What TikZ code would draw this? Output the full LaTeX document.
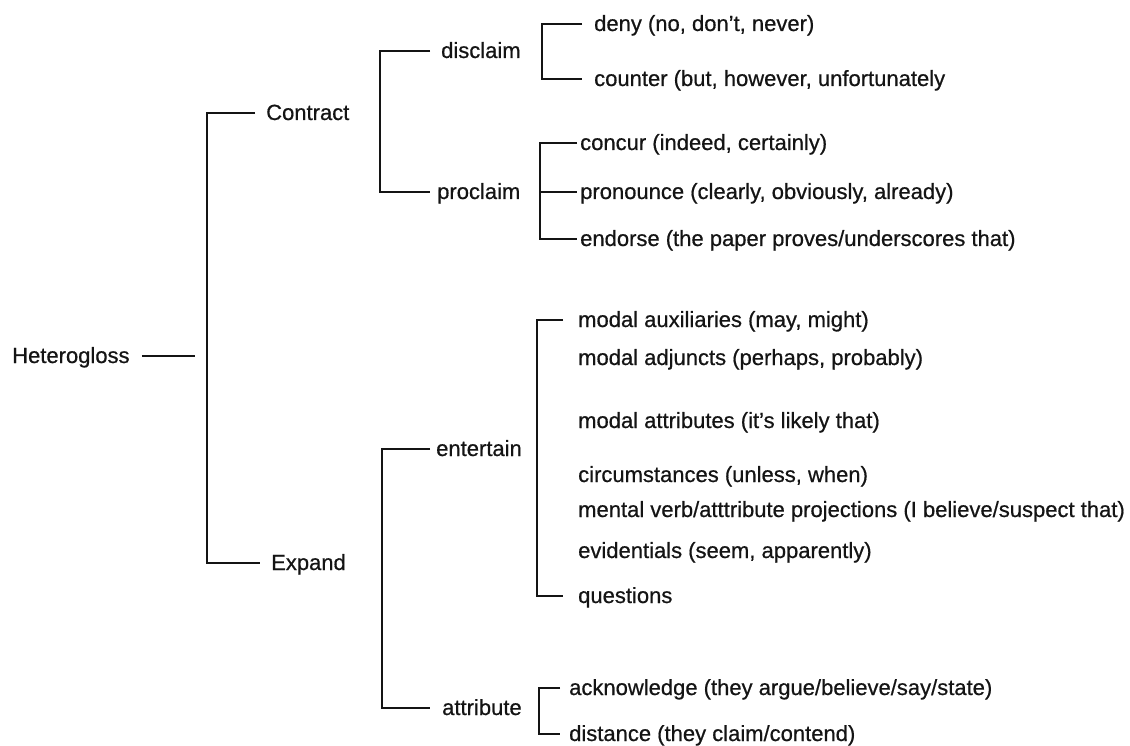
\documentclass[tikz,border=0pt]{standalone}
\usepackage{fontspec}
\setmainfont{Liberation Sans}[FakeBold=0.6]
\definecolor{ink}{HTML}{141414}
\begin{document}
\begin{tikzpicture}[x=1pt,y=-1pt,
  lbl/.style={anchor=west, inner sep=0pt, text height=14pt, text depth=0pt,
              font=\fontsize{22}{26}\selectfont, text=ink},
  ln/.style={draw=ink, line width=1.8pt, line join=miter}]
\fill[white] (0,0) rectangle (1130,746);
\useasboundingbox (0,0) rectangle (1130,746);

% level 0
\node[lbl] (het) at (12,356) {Heterogloss};
% level 1
\node[lbl] (con) at (266,113) {Contract};
\node[lbl] (exp) at (271,563) {Expand};
% level 2
\node[lbl] (dis) at (441,51) {disclaim};
\node[lbl] (pro) at (437,192) {proclaim};
\node[lbl] (ent) at (436,449) {entertain};
\node[lbl] (att) at (442,708) {attribute};
% level 3
\node[lbl] (deny) at (594,24) {deny (no, don't, never)};
\node[lbl] (cou) at (594,79) {counter (but, however, unfortunately};
\node[lbl] (ccr) at (580,143) {concur (indeed, certainly)};
\node[lbl] (prn) at (580,192) {pronounce (clearly, obviously, already)};
\node[lbl] (end) at (580,239) {endorse (the paper proves/underscores that)};
\node[lbl] (maux) at (578,320) {modal auxiliaries (may, might)};
\node[lbl] (madj) at (578,358) {modal adjuncts (perhaps, probably)};
\node[lbl] (matt) at (578,421) {modal attributes (it's likely that)};
\node[lbl] (circ) at (578,475) {circumstances (unless, when)};
\node[lbl] (ment) at (578,510) {mental verb/atttribute projections (I believe/suspect that)};
\node[lbl] (evid) at (578,551) {evidentials (seem, apparently)};
\node[lbl] (ques) at (578,596) {questions};
\node[lbl] (ack) at (569,688) {acknowledge (they argue/believe/say/state)};
\node[lbl] (dist) at (569,734) {distance (they claim/contend)};

% spine and line-end coordinates
\coordinate (hetend) at (195,356);
\coordinate (s0) at (207,0);
\coordinate (s1) at (380,0);   \coordinate (e1) at (430,0);
\coordinate (s2) at (382,0);   \coordinate (e2) at (430,0);
\coordinate (s3) at (542,0);   \coordinate (e3) at (582,0);
\coordinate (s4) at (540,0);   \coordinate (e4) at (577,0);
\coordinate (s5) at (537,0);   \coordinate (e5) at (563,0);
\coordinate (s6) at (539,0);   \coordinate (e6) at (560,0);

% connectors
\draw[ln] ([xshift=12pt]het.east) -- (hetend);
\draw[ln] ([xshift=-11pt]con.west) -- (con.west -| s0) -- (exp.west -| s0) -- ([xshift=-11pt]exp.west);
\draw[ln] (dis.west -| e1) -- (dis.west -| s1) -- (pro.west -| s1) -- (pro.west -| e1);
\draw[ln] (ent.west -| e2) -- (ent.west -| s2) -- (att.west -| s2) -- (att.west -| e2);
\draw[ln] (deny.west -| e3) -- (deny.west -| s3) -- (cou.west -| s3) -- (cou.west -| e3);
\draw[ln] (ccr.west -| e4) -- (ccr.west -| s4) -- (end.west -| s4) -- (end.west -| e4);
\draw[ln] (prn.west -| s4) -- (prn.west -| e4);
\draw[ln] (maux.west -| e5) -- (maux.west -| s5) -- (ques.west -| s5) -- (ques.west -| e5);
\draw[ln] (ack.west -| e6) -- (ack.west -| s6) -- (dist.west -| s6) -- (dist.west -| e6);
\end{tikzpicture}
\end{document}
